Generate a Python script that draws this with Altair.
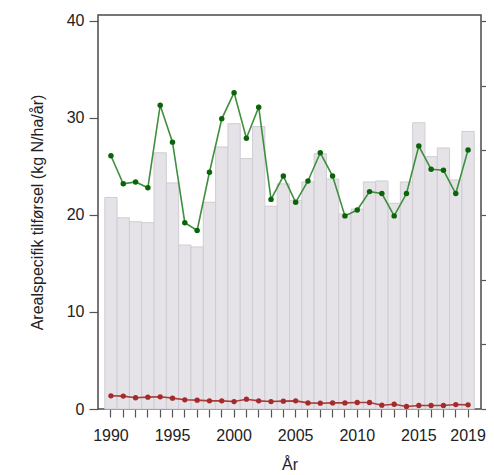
import altair as alt
import pandas as pd

years = list(range(1990, 2020))
bar_values = [21.8, 19.7, 19.3, 19.2, 26.4, 23.3, 16.9, 16.7, 21.3, 27.0,
              29.4, 25.8, 29.1, 20.9, 23.2, 21.5, 23.4, 26.3, 23.7, 20.1,
              20.6, 23.4, 23.5, 21.2, 23.4, 29.5, 26.0, 26.9, 23.6, 28.6]
green_values = [26.1, 23.2, 23.4, 22.8, 31.3, 27.5, 19.2, 18.4, 24.4, 29.9,
                32.6, 27.9, 31.1, 21.6, 24.0, 21.3, 23.5, 26.4, 24.0, 19.9,
                20.5, 22.4, 22.2, 19.9, 22.2, 27.1, 24.7, 24.6, 22.2, 26.7]
red_values = [1.36, 1.33, 1.16, 1.22, 1.26, 1.12, 0.95, 0.91, 0.84, 0.84,
              0.77, 1.01, 0.84, 0.77, 0.81, 0.84, 0.63, 0.60, 0.63, 0.63,
              0.67, 0.67, 0.39, 0.49, 0.26, 0.36, 0.36, 0.36, 0.46, 0.43]
y_ticks = [0, 10, 20, 30, 40]
x_labels = ["1990", "1995", "2000", "2005", "2010", "2015", "2019"]
right_ticks = [0, 40 / 6, 80 / 6, 20, 160 / 6, 200 / 6, 40]

df = pd.DataFrame({"year": years, "bar": bar_values,
                   "green": green_values, "red": red_values})

FONT = "Liberation Sans"
FS = 16
YMAX = 40.6
label_expr = "indexof(" + str(x_labels) + ", '' + datum.value) >= 0 ? '' + datum.value : ''"

xenc = alt.X("year:O",
             scale=alt.Scale(paddingInner=0, paddingOuter=0.55),
             axis=alt.Axis(title="År", labelAngle=0, labelExpr=label_expr,
                           domain=False, tickColor="#555555", tickSize=8,
                           tickWidth=1.2, labelFont=FONT, labelFontSize=FS,
                           labelColor="#222222", labelPadding=10,
                           titleFont=FONT, titleFontSize=FS,
                           titleFontWeight="normal", titleColor="#222222",
                           titlePadding=13))
yscale = alt.Scale(domain=[0, YMAX], nice=False, zero=True)

base = alt.Chart(df)

bars = base.mark_bar(color="#e5e3e7", stroke="#cfcdd2", strokeWidth=1).encode(
    x=xenc,
    y=alt.Y("bar:Q", scale=yscale,
            axis=alt.Axis(title="Arealspecifik tilførsel (kg N/ha/år)",
                          values=y_ticks, grid=False, domain=False,
                          tickColor="#555555", tickSize=9, tickWidth=1.2,
                          labelFont=FONT, labelFontSize=FS,
                          labelColor="#222222", labelPadding=5,
                          titleFont=FONT, titleFontSize=FS,
                          titleFontWeight="normal", titleColor="#222222",
                          titlePadding=21)),
)

green_line = base.mark_line(color="#3f8f3f", strokeWidth=1.6).encode(
    x=xenc, y=alt.Y("green:Q", scale=yscale))
green_pts = base.mark_circle(color="#0a640a", opacity=1, size=30).encode(
    x=xenc, y=alt.Y("green:Q", scale=yscale))
red_line = base.mark_line(color="#a83c3c", strokeWidth=1.6).encode(
    x=xenc, y=alt.Y("red:Q", scale=yscale))
red_pts = base.mark_circle(color="#a52a2a", opacity=1, size=28).encode(
    x=xenc, y=alt.Y("red:Q", scale=yscale))

main = alt.layer(bars, green_line, green_pts, red_line, red_pts)

right_axis = base.mark_rule(opacity=0).encode(
    x=xenc,
    y=alt.Y("bar:Q", scale=yscale,
            axis=alt.Axis(orient="right", title=None, values=right_ticks,
                          labels=False, grid=False, domain=False,
                          tickColor="#555555", tickSize=9, tickWidth=1.2)),
)

chart = alt.layer(main, right_axis).resolve_scale(y="independent").properties(
    width=383, height=394,
    background="white",
    autosize=alt.AutoSizeParams(type="none"),
    padding={"left": 90, "top": 7, "right": 5, "bottom": 64},
).configure_view(stroke="#4a4a4a", strokeWidth=1.5)

chart.save("out.html", embed_options={"renderer": "svg", "actions": False})
